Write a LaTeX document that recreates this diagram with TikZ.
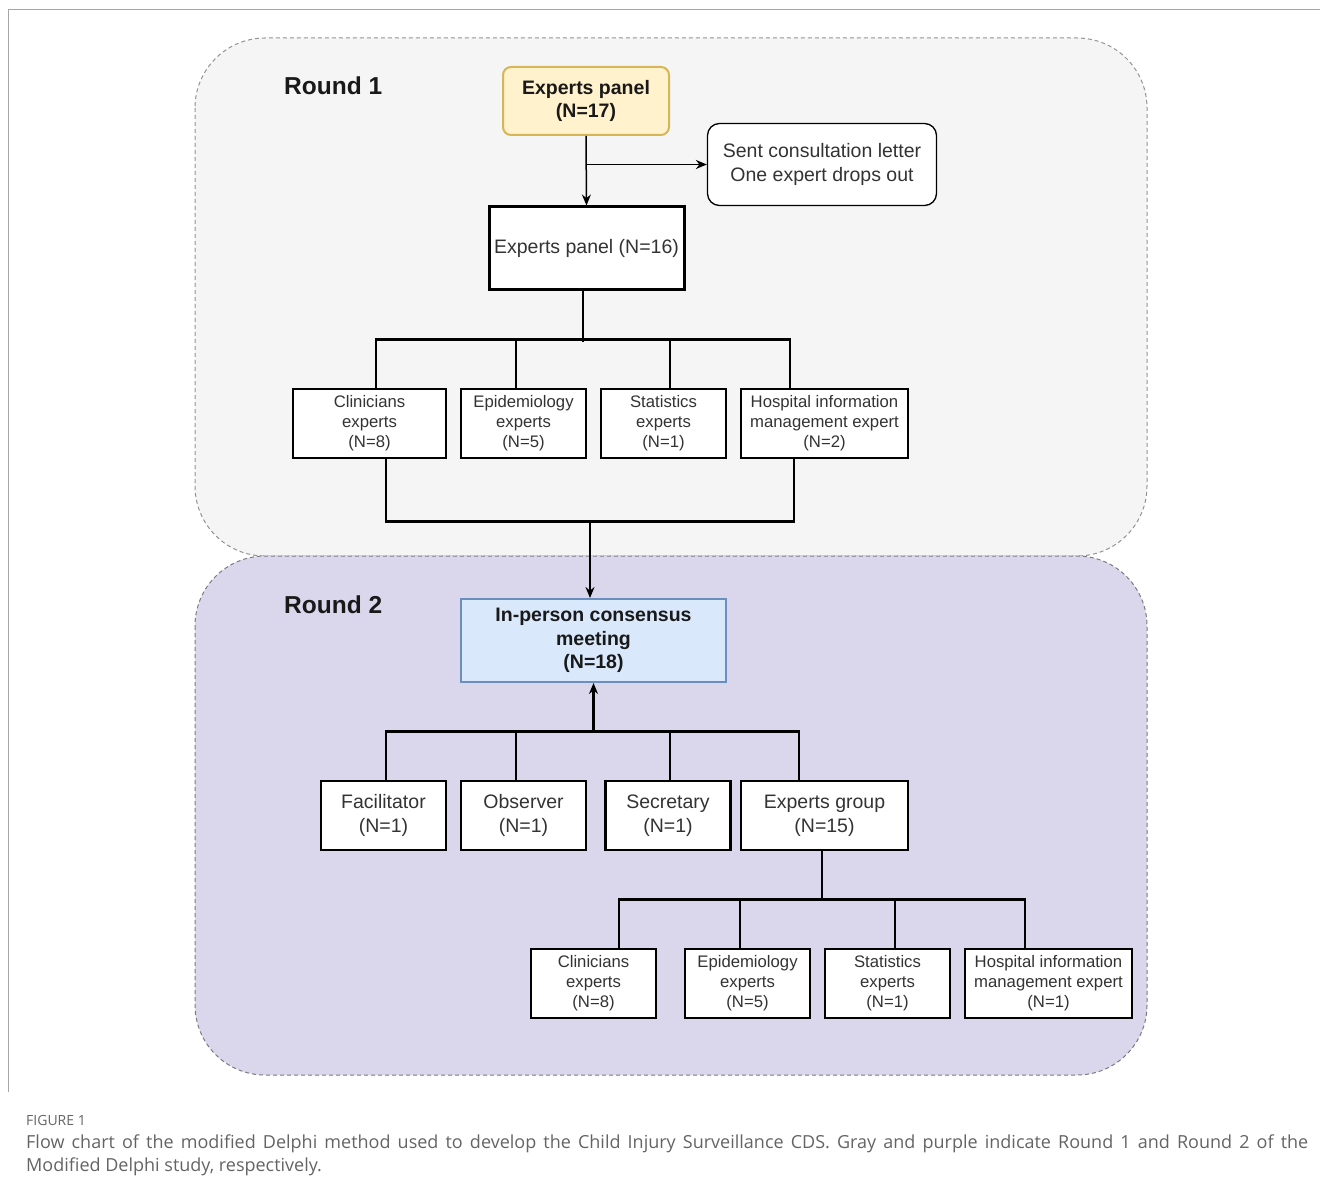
\documentclass[tikz,border=0pt]{standalone}
\usepackage{fontspec}
\setmainfont{Liberation Sans}
\newfontfamily\capfont{Open Sans}
\usetikzlibrary{positioning,arrows.meta,calc}
\definecolor{roundgray}{RGB}{245,245,245}
\definecolor{roundpurple}{RGB}{218,215,236}
\definecolor{panelyellow}{RGB}{255,242,204}
\definecolor{paneledge}{RGB}{214,182,86}
\definecolor{meetblue}{RGB}{218,232,252}
\definecolor{meetedge}{RGB}{108,142,191}
\definecolor{txtgray}{RGB}{51,51,51}
\definecolor{capgray}{RGB}{100,100,100}

\begin{document}
\begin{tikzpicture}[x=1pt,y=-1pt,
    box/.style={draw,line width=2.7pt,fill=white,align=center,inner sep=0pt,
      text=txtgray,font=\fontsize{16.7}{20}\selectfont},
    bigbox/.style={box,font=\fontsize{19.5}{24}\selectfont},
    roundlbl/.style={anchor=west,inner sep=0pt,text=black!90,font=\fontsize{24.5}{28}\bfseries\selectfont},
    wire/.style={line width=2.7pt},
    arr/.style={-{Stealth[length=11pt,width=9pt]}},
    region/.style={dash pattern=on 4pt off 3pt,line width=1pt,rounded corners=70pt}
  ]
  \useasboundingbox (0,0) rectangle (1320,1182);

  % the frame
  \draw[gray!70,line width=1pt] (8,1092) -- (8,10) -- (1320,10);

  % the two rounds
  \draw[region,fill=roundgray,draw=gray!85] (195,38) rectangle (1147,556);
  \draw[region,fill=roundpurple,draw=black!45!roundpurple!60!gray] (195,556) rectangle (1147,1075);
  \node[roundlbl] (r1) at (284,86) {Round 1};
  \node[roundlbl] (r2) at (284,605) {Round 2};

  % round 1
  \node[bigbox,draw=paneledge,fill=panelyellow,line width=2pt,rounded corners=8pt,
    text=black!90,font=\fontsize{19.5}{23}\bfseries\selectfont,
    minimum width=166pt,minimum height=68pt] (p17) at (586,101) {Experts panel\\(N=17)};
  \node[bigbox,line width=1.3pt,rounded corners=12pt,minimum width=229pt,minimum height=82pt]
    (sent) at (822,164.5) {Sent consultation letter\\One expert drops out};
  \node[bigbox,line width=3pt,minimum width=195pt,minimum height=83pt] (p16) at (586.5,248.5) {Experts panel (N=16)};

  \foreach \nm/\cx/\w/\txt in {c1/369.5/153/{Clinicians\\experts\\(N=8)},
      e1/523.5/125/{Epidemiology\\experts\\(N=5)},
      s1/663.5/125/{Statistics\\experts\\(N=1)},
      h1/824.5/167/{Hospital information\\management expert\\(N=2)}}
    \node[box,minimum width=\w pt,minimum height=69pt] (\nm) at (\cx,423.5) {\txt};

  % round 2
  \node[bigbox,draw=meetedge,fill=meetblue,line width=2pt,text=black!90,
    font=\fontsize{19.5}{23.5}\bfseries\selectfont,
    minimum width=265pt,minimum height=83pt] (meet) at (593.5,640.5) {In-person consensus\\meeting\\(N=18)};

  \foreach \nm/\cx/\txt in {fa/383.5/{Facilitator\\(N=1)},
      ob/523.5/{Observer\\(N=1)},
      se/668/{Secretary\\(N=1)}}
    \node[bigbox,minimum width=125pt,minimum height=69pt] (\nm) at (\cx,815.5) {\txt};
  \node[bigbox,minimum width=167pt,minimum height=69pt] (eg) at (824.5,815.5) {Experts group\\(N=15)};

  \foreach \nm/\cx/\w/\txt in {c3/593.5/125/{Clinicians\\experts\\(N=8)},
      e3/747.5/125/{Epidemiology\\experts\\(N=5)},
      s3/887.5/125/{Statistics\\experts\\(N=1)},
      h3/1048.5/167/{Hospital information\\management expert\\(N=1)}}
    \node[box,minimum width=\w pt,minimum height=69pt] (\nm) at (\cx,983.5) {\txt};

  % the edges of round 1
  \draw[arr,line width=1.5pt] (p17.south) -- (p16.north);
  \draw[arr,line width=1.5pt] (p17.south |- sent.west) -- (sent.west);
  \draw[wire] ([xshift=-3.5pt]p16.south) -- ++(0,50);
  \draw[wire] ([xshift=6.5pt]c1.north) -- ++(0,-48) -| ([xshift=-34.5pt]h1.north);
  \draw[wire] ([xshift=-7.5pt]e1.north) -- ++(0,-48);
  \draw[wire] ([xshift=6.5pt]s1.north) -- ++(0,-48);
  \draw[wire] ([xshift=16.5pt]c1.south) -- ++(0,62) -| ([xshift=-30.5pt]h1.south);
  \coordinate (join1) at ($([xshift=16.5pt]c1.south)!.5!([xshift=-30.5pt]h1.south)+(0,62)$);
  \draw[wire,arr] (join1) -- (join1 |- meet.north);

  % the edges of round 2
  \draw[wire] ([xshift=2.5pt]fa.north) -- ++(0,-48) -| ([xshift=-25.5pt]eg.north);
  \draw[wire] ([xshift=-7.5pt]ob.north) -- ++(0,-48);
  \draw[wire] ([xshift=2pt]se.north) -- ++(0,-48);
  \coordinate (bus2) at ($(meet.south |- fa.north)+(0,-48)$);
  \draw[wire,arr] (bus2) -- (meet.south);
  \draw[wire] ([xshift=-2.5pt]eg.south) -- ++(0,49);
  \draw[wire] ([xshift=25.5pt]c3.north) -- ++(0,-48) -| ([xshift=-23.5pt]h3.north);
  \draw[wire] ([xshift=-7.5pt]e3.north) -- ++(0,-48);
  \draw[wire] ([xshift=7.5pt]s3.north) -- ++(0,-48);

  % the caption
  \node[anchor=north west,inner sep=0pt,text=capgray,font=\capfont\fontsize{14}{16}\selectfont]
    (figlbl) at (26,1115) {FIGURE 1};
  \node[anchor=north west,inner sep=0pt,text width=1282pt,align=justify,text=capgray,
    font=\capfont\fontsize{18}{23}\selectfont] (cap) at (26,1135)
    {Flow chart of the modified Delphi method used to develop the Child Injury Surveillance CDS. Gray and purple indicate Round 1 and Round 2 of the\linebreak Modified Delphi study, respectively.};
\end{tikzpicture}
\end{document}
